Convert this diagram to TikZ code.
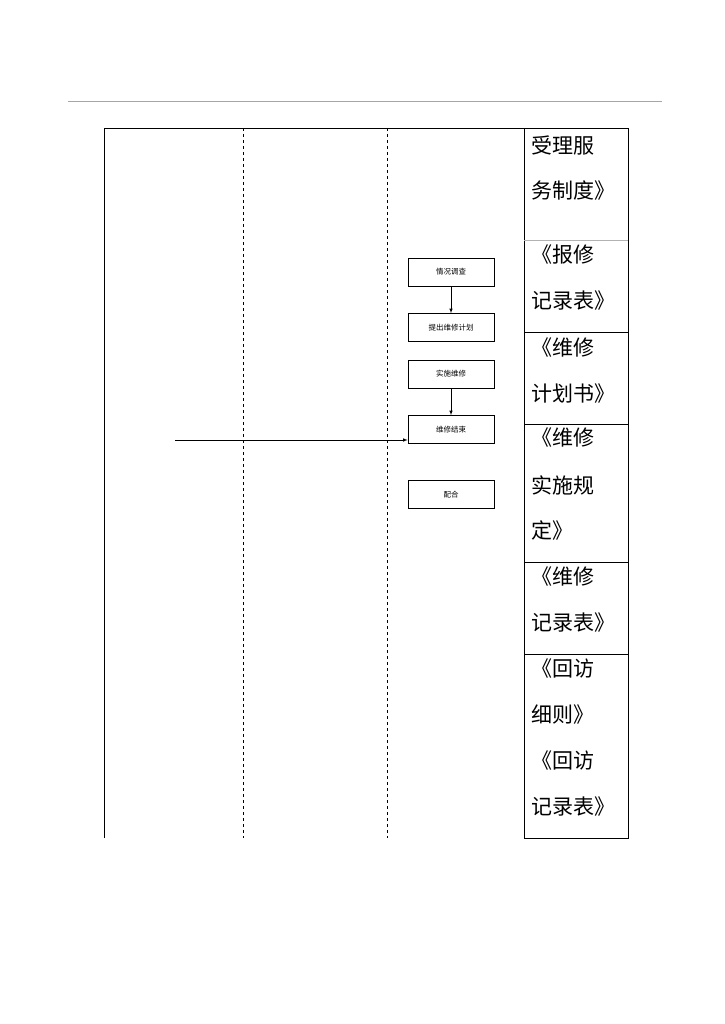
\documentclass[tikz,border=0pt]{standalone}
\usepackage{fontspec}
\newfontfamily\cjk{Noto Sans CJK SC}
\begin{document}
\begin{tikzpicture}[x=1pt,y=-1pt,
  bx/.style={draw,line width=0.6pt,minimum width=86pt,minimum height=28pt,inner sep=0pt,font=\cjk\fontsize{7.5}{9}\selectfont},
  rt/.style={anchor=west,inner sep=0pt,font=\cjk\fontsize{21}{24}\selectfont},
  arr/.style={-latex,line width=0.6pt}]
\useasboundingbox (0,0) rectangle (724,1024);
\draw[gray!70] (68,101) -- (662,101);
\draw[line width=0.6pt] (104,838) -- (104,128) -- (628,128);
\draw[dashed,line width=0.5pt] (243,128) -- (243,838) (387,128) -- (387,838);
\draw[line width=0.6pt] (524,128) rectangle (628,838);
\draw[gray!60] (524,240) -- (628,240);
\foreach \y in {332,424,562,654} \draw[line width=0.6pt] (524,\y) -- (628,\y);
\node[bx] (a) at (451,272) {\raisebox{-6pt}{情况调查}};
\node[bx] (b) at (451,327.5) {\raisebox{-6pt}{提出维修计划}};
\node[bx] (c) at (451,374) {\raisebox{-6pt}{实施维修}};
\node[bx] (d) at (451,429.5) {\raisebox{-6pt}{维修结束}};
\node[bx] (e) at (451,494.5) {\raisebox{-6pt}{配合}};
\coordinate (s) at (175,440);
\draw[arr] (a) -- (b);
\draw[arr] (c) -- (d);
\draw[arr] (s) -- (d.west |- s);
\foreach \t/\y in {受理服/145,务制度》/191,《报修/255,记录表》/301,《维修/348,计划书》/394,《维修/438,实施规/485,定》/531,《维修/577,记录表》/623,《回访/669,细则》/715,《回访/761,记录表》/807}
  \node[rt] at (531,\y) {\t};
\end{tikzpicture}
\end{document}
